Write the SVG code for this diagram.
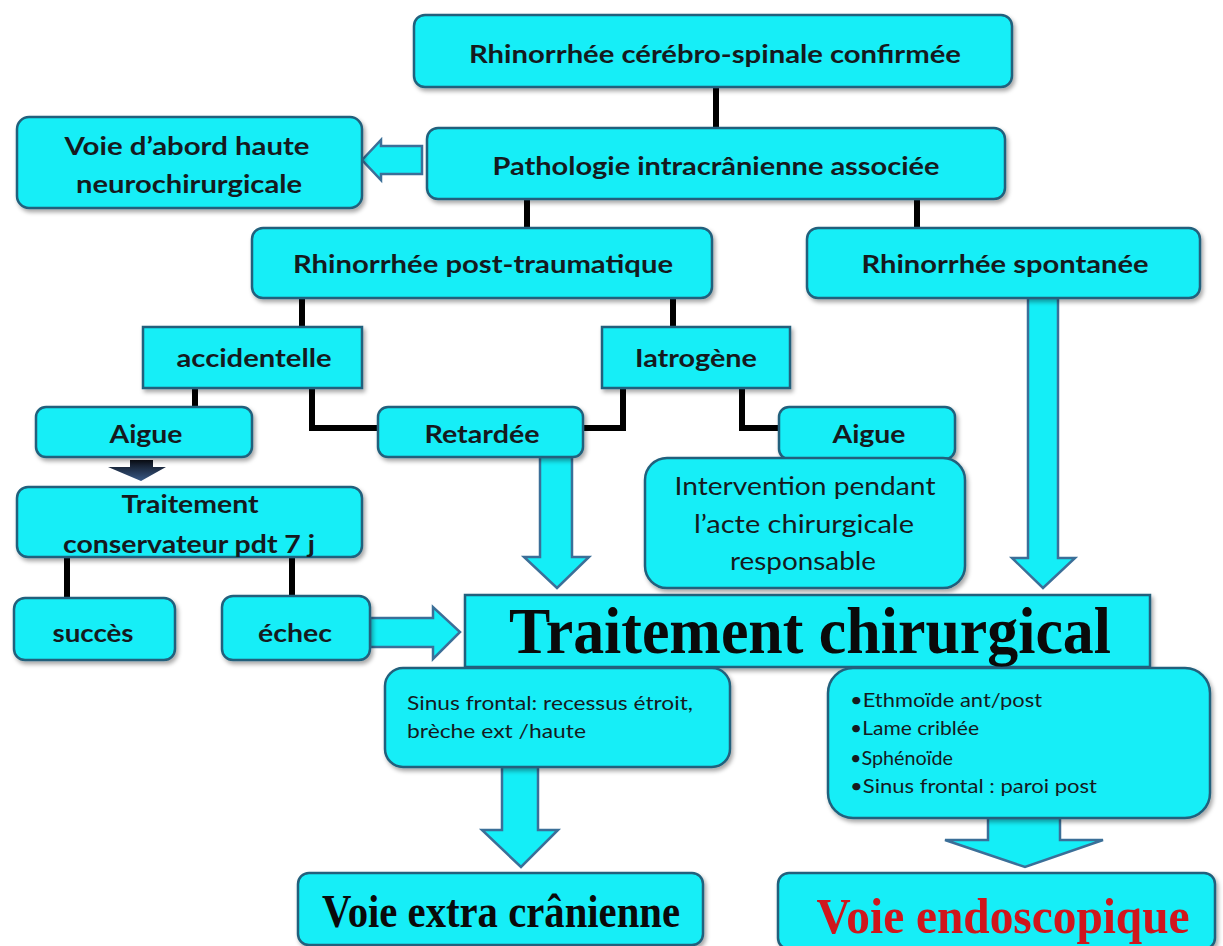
<svg xmlns="http://www.w3.org/2000/svg" width="1223" height="946" viewBox="0 0 1223 946">
  <defs>
    <filter id="shadow" x="-5%" y="-5%" width="112%" height="125%">
      <feDropShadow dx="2" dy="3" stdDeviation="2" flood-color="#000" flood-opacity="0.35"/>
    </filter>
    <linearGradient id="darkArrow" x1="0" y1="0" x2="0" y2="1">
      <stop offset="0" stop-color="#0b0f18"/>
      <stop offset="1" stop-color="#3a5a86"/>
    </linearGradient>
    <style>
      .box { fill: #14eef7; stroke: #22607c; stroke-width: 2.5; filter: url(#shadow); }
      .lbl { font-family: Lato, "Open Sans", sans-serif; font-weight: bold; font-size: 25px; fill: #151a1e; text-anchor: middle; }
      .reg { font-family: Lato, "Open Sans", sans-serif; font-size: 25px; fill: #151a1e; text-anchor: middle; }
      .small { font-family: Lato, "Open Sans", sans-serif; font-size: 20px; fill: #151a1e; }
      .serif { font-family: "Liberation Serif", "Times New Roman", serif; font-weight: bold; fill: #0a0a0a; text-anchor: middle; }
      .wire { fill: none; stroke: #000; stroke-width: 6; }
      .block { fill: #14eef7; stroke: #3b6f98; stroke-width: 2.5; stroke-linejoin: miter; }
    </style>
  </defs>
  <rect width="1223" height="946" fill="#ffffff"/>

  <!-- connectors: tree lines and block arrows -->
  <g id="connectors">
    <line class="wire" x1="716" y1="87" x2="716" y2="128"/>
    <line class="wire" x1="527" y1="200" x2="527" y2="228"/>
    <line class="wire" x1="917" y1="200" x2="917" y2="228"/>
    <line class="wire" x1="302" y1="298" x2="302" y2="327"/>
    <line class="wire" x1="673" y1="298" x2="673" y2="327"/>
    <line class="wire" x1="195" y1="388" x2="195" y2="407"/>
    <polyline class="wire" points="312,388 312,428 378,428"/>
    <polyline class="wire" points="623,388 623,428 583,428"/>
    <polyline class="wire" points="742,388 742,428 779,428"/>
    <line class="wire" x1="67" y1="557" x2="67" y2="598"/>
    <line class="wire" x1="292" y1="557" x2="292" y2="596"/>

    <polygon class="block" points="362,160 381,140 381,146 422,146 422,174 381,174 381,180"/>
    <polygon fill="url(#darkArrow)" points="130,460 153,460 153,467 166,467 141,481 108,467 130,467"/>
    <polygon class="block" points="370,618 433,618 433,607 460,632 433,659 433,647 370,647"/>
    <polygon class="block" points="540,457 572,457 572,557 589,557 557,588 524,557 540,557"/>
    <polygon class="block" points="1028,298 1058,298 1058,558 1075,558 1043,588 1012,558 1028,558"/>
    <polygon class="block" points="502,767 538,767 538,830 558,830 521,867 482,830 502,830"/>
    <polygon class="block" points="988,818 1060,818 1060,840 1103,840 1025,867 945,840 988,840"/>
  </g>

  <g id="n-confirmee">
    <rect class="box" x="414" y="15" width="598" height="72" rx="11"/>
    <text class="lbl" x="715" y="63" textLength="492" lengthAdjust="spacingAndGlyphs">Rhinorrhée cérébro-spinale confirmée</text>
  </g>

  <g id="n-pathologie">
    <rect class="box" x="427" y="128" width="578" height="71" rx="11"/>
    <text class="lbl" x="716" y="175" textLength="447" lengthAdjust="spacingAndGlyphs">Pathologie intracrânienne associée</text>
  </g>

  <g id="n-voie-haute">
    <rect class="box" x="17" y="117" width="345" height="91" rx="12"/>
    <text class="lbl" x="187" y="155" textLength="245" lengthAdjust="spacingAndGlyphs">Voie d’abord haute</text>
    <text class="lbl" x="189" y="193" textLength="226" lengthAdjust="spacingAndGlyphs">neurochirurgicale</text>
  </g>

  <g id="n-post-traumatique">
    <rect class="box" x="252" y="228" width="460" height="70" rx="11"/>
    <text class="lbl" x="483" y="273" textLength="380" lengthAdjust="spacingAndGlyphs">Rhinorrhée post-traumatique</text>
  </g>

  <g id="n-spontanee">
    <rect class="box" x="807" y="228" width="393" height="70" rx="11"/>
    <text class="lbl" x="1005" y="273" textLength="287" lengthAdjust="spacingAndGlyphs">Rhinorrhée spontanée</text>
  </g>

  <g id="n-accidentelle">
    <rect class="box" x="143" y="327" width="219" height="61"/>
    <text class="lbl" x="254" y="367" textLength="155" lengthAdjust="spacingAndGlyphs">accidentelle</text>
  </g>

  <g id="n-iatrogene">
    <rect class="box" x="602" y="327" width="188" height="61"/>
    <text class="lbl" x="696" y="367" textLength="122" lengthAdjust="spacingAndGlyphs">Iatrogène</text>
  </g>

  <g id="n-aigue-acc">
    <rect class="box" x="36" y="407" width="216" height="50" rx="10"/>
    <text class="lbl" x="146" y="443" textLength="73" lengthAdjust="spacingAndGlyphs">Aigue</text>
  </g>

  <g id="n-retardee">
    <rect class="box" x="378" y="407" width="205" height="50" rx="10"/>
    <text class="lbl" x="482" y="443" textLength="115" lengthAdjust="spacingAndGlyphs">Retardée</text>
  </g>

  <g id="n-aigue-iatro">
    <rect class="box" x="779" y="407" width="176" height="52" rx="10"/>
    <text class="lbl" x="869" y="443" textLength="73" lengthAdjust="spacingAndGlyphs">Aigue</text>
  </g>

  <g id="n-intervention">
    <rect class="box" x="645" y="458" width="320" height="130" rx="22"/>
    <text class="reg" x="805" y="495" textLength="261" lengthAdjust="spacingAndGlyphs">Intervention pendant</text>
    <text class="reg" x="804" y="533" textLength="220" lengthAdjust="spacingAndGlyphs">l’acte chirurgicale</text>
    <text class="reg" x="803" y="570" textLength="146" lengthAdjust="spacingAndGlyphs">responsable</text>
  </g>

  <g id="n-conservateur">
    <rect class="box" x="17" y="487" width="345" height="70" rx="11"/>
    <text class="lbl" x="190" y="513" textLength="137" lengthAdjust="spacingAndGlyphs">Traitement</text>
    <text class="lbl" x="189" y="553" textLength="252" lengthAdjust="spacingAndGlyphs">conservateur pdt 7 j</text>
  </g>

  <g id="n-succes">
    <rect class="box" x="14" y="598" width="161" height="62" rx="11"/>
    <text class="lbl" x="93" y="642" textLength="81" lengthAdjust="spacingAndGlyphs">succès</text>
  </g>

  <g id="n-echec">
    <rect class="box" x="222" y="596" width="148" height="64" rx="11"/>
    <text class="lbl" x="295" y="642" textLength="74" lengthAdjust="spacingAndGlyphs">échec</text>
  </g>

  <g id="n-chirurgical">
    <rect class="box" x="465" y="595" width="685" height="72"/>
    <text class="serif" x="810" y="653" font-size="65" textLength="602" lengthAdjust="spacingAndGlyphs">Traitement chirurgical</text>
  </g>

  <g id="n-sinus">
    <rect class="box" x="385" y="668" width="345" height="99" rx="18"/>
    <text class="small" x="407" y="710" textLength="286" lengthAdjust="spacingAndGlyphs">Sinus frontal: recessus étroit,</text>
    <text class="small" x="407" y="738" textLength="179" lengthAdjust="spacingAndGlyphs">brèche ext /haute</text>
  </g>

  <g id="n-sites">
    <rect class="box" x="828" y="668" width="382" height="150" rx="25"/>
    <text class="small" x="850" y="707" textLength="192" lengthAdjust="spacingAndGlyphs">•Ethmoïde ant/post</text>
    <text class="small" x="850" y="735" textLength="129" lengthAdjust="spacingAndGlyphs">•Lame criblée</text>
    <text class="small" x="850" y="765" textLength="103" lengthAdjust="spacingAndGlyphs">•Sphénoïde</text>
    <text class="small" x="850" y="793" textLength="247" lengthAdjust="spacingAndGlyphs">•Sinus frontal : paroi post</text>
  </g>

  <g id="n-extra-cranienne">
    <rect class="box" x="298" y="873" width="405" height="72" rx="11"/>
    <text class="serif" x="501" y="927" font-size="46" textLength="358" lengthAdjust="spacingAndGlyphs">Voie extra crânienne</text>
  </g>

  <g id="n-endoscopique">
    <rect class="box" x="778" y="873" width="437" height="76" rx="11"/>
    <text class="serif" x="1003" y="933" font-size="50" style="fill:#d0161c" textLength="373" lengthAdjust="spacingAndGlyphs">Voie endoscopique</text>
  </g>
</svg>
